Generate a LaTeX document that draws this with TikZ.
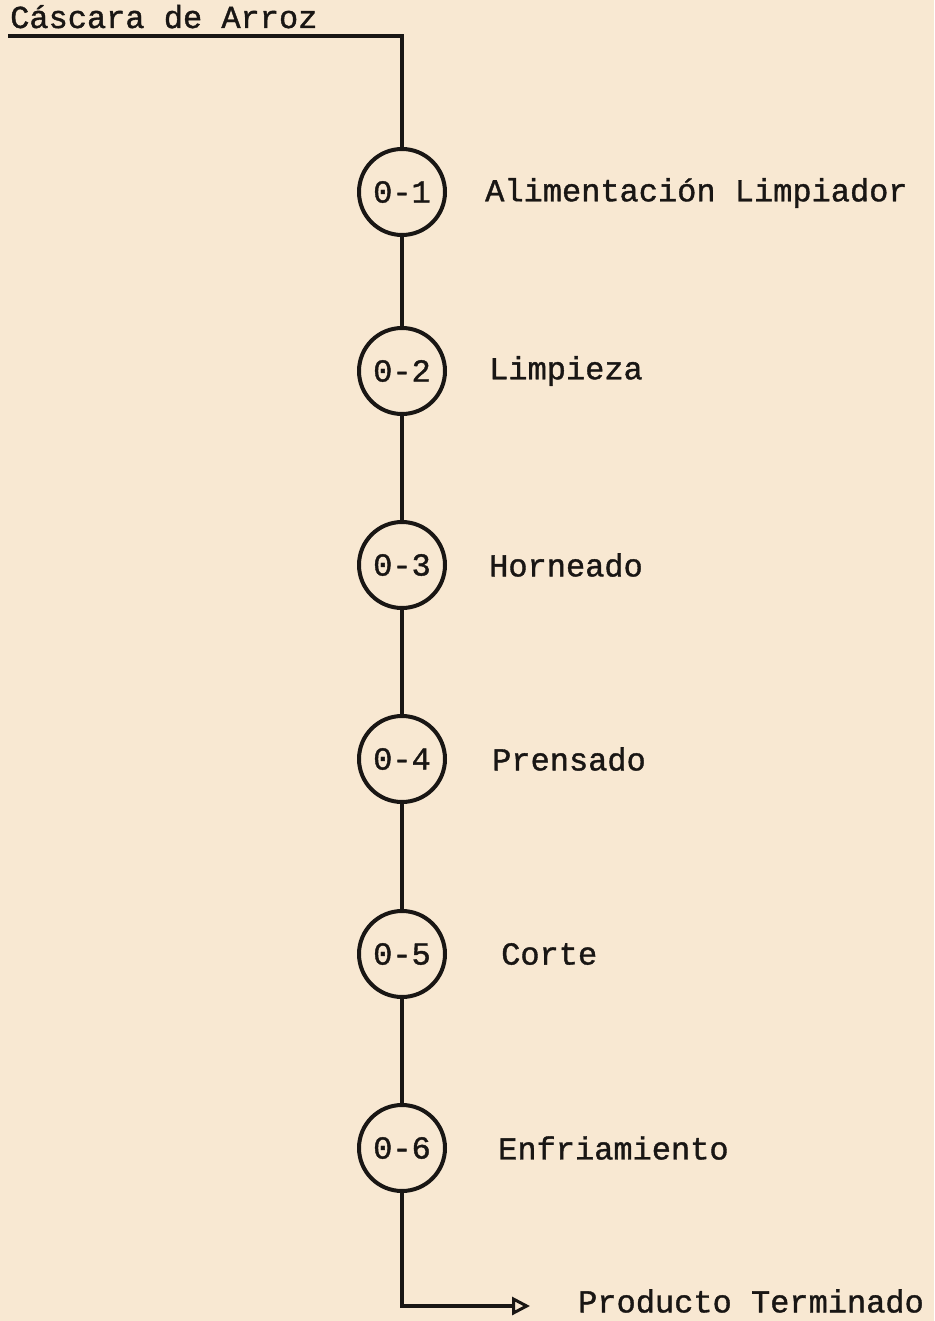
\documentclass[tikz,border=0pt]{standalone}
\usepackage{fontspec}
\setmainfont{Liberation Mono}[FakeBold=1.2,AutoFakeBold=1.2]
\usetikzlibrary{arrows.meta}
\definecolor{paper}{RGB}{248,232,210}
\definecolor{ink}{RGB}{25,22,20}
\begin{document}
\begin{tikzpicture}[x=1pt,y=-1pt,
  font=\fontsize{32}{38}\selectfont\bfseries,
  op/.style={circle,draw=ink,line width=4pt,minimum size=86pt,inner sep=0pt,text=ink},
  lbl/.style={anchor=west,inner sep=0pt,text=ink},
  flow/.style={draw=ink,line width=3.8pt}]
\fill[paper] (0,0) rectangle (934,1321);
\useasboundingbox (0,0) rectangle (934,1321);
\node[anchor=base west,inner sep=0pt,text=ink] (src) at (10,28) {Cáscara de Arroz};
\coordinate (corner) at (402,36);
\node[op] (o1) at (402,192) {0-1};
\node[op] (o2) at (402,371) {0-2};
\node[op] (o3) at (402,565) {0-3};
\node[op] (o4) at (402,759) {0-4};
\node[op] (o5) at (402,954) {0-5};
\node[op] (o6) at (402,1148) {0-6};
\node[lbl] (l1) at (485,193) {Alimentación Limpiador};
\node[lbl] (l2) at (489,371) {Limpieza};
\node[lbl] (l3) at (489,565) {Horneado};
\node[lbl] (l4) at (492,759) {Prensado};
\node[lbl] (l5) at (501,954) {Corte};
\node[lbl] (l6) at (498,1148) {Enfriamiento};
\node[lbl] (pt) at (578,1301) {Producto Terminado};
\coordinate (bend) at (404,1306);
\coordinate (tip) at (530,1306);
\draw[flow] (8,36) -- (corner) -- (o1.north);
\draw[flow] (o1) -- (o2);
\draw[flow] (o2) -- (o3);
\draw[flow] (o3) -- (o4);
\draw[flow] (o4) -- (o5);
\draw[flow] (o5) -- (o6);
\draw[flow,-{Triangle[open,length=18pt,width=18pt,line width=3pt]}] (o6.south) -- (o6.south |- bend) -- (tip);
\end{tikzpicture}
\end{document}
